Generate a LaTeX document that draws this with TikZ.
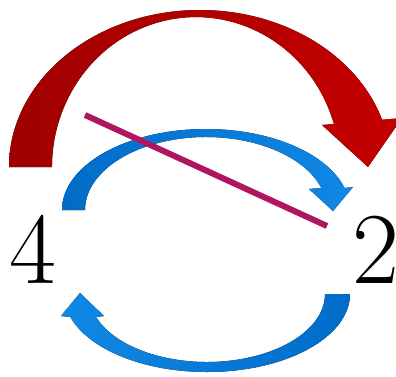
\documentclass[tikz,border=0pt]{standalone}
\usepackage{tikz}
\usetikzlibrary{positioning}
\definecolor{redlt}{RGB}{196,0,0}
\definecolor{reddk}{RGB}{160,0,0}
\definecolor{bluelt}{RGB}{16,136,230}
\definecolor{bluedk}{RGB}{0,108,200}
\definecolor{slash}{RGB}{176,22,96}
\tikzset{
  every picture/.style={line width=0.6pt},
  digit/.style={inner sep=0,anchor=base west,font=\fontsize{102}{102}\selectfont},
  bigarr/.style={left color=reddk,middle color=redlt,right color=redlt},
  toparr/.style={left color=bluedk,middle color=bluelt,right color=bluelt},
  botarr/.style={left color=bluelt,middle color=bluelt,right color=bluedk},
  cross/.style={draw=slash,line width=6pt},
}
\begin{document}
\begin{tikzpicture}[x=1pt,y=-1pt]
\useasboundingbox (0,0) rectangle (396,376);
% labels
\node[digit] (four) at (9,283) {4};
\node[digit] (two) at (352,283) {2};
% big red arrow
\fill[bigarr] (9,167) arc[start angle=180,end angle=342.5,x radius=191,y radius=157]
  -- (402,118) -- (368,167) -- (322,125) -- (333.9,124)
  arc[start angle=343.3,end angle=180,x radius=144,y radius=150] -- cycle;
% upper blue arrow
\fill[toparr] (62,210) arc[start angle=180,end angle=344.24,x radius=144,y radius=81]
  -- (353,187) -- (333,211) -- (309,189) -- (321.4,188)
  arc[start angle=342.46,end angle=180,x radius=121,y radius=73] -- cycle;
% lower blue arrow
\fill[botarr] (350,294) arc[start angle=0,end angle=162.85,x radius=143,y radius=78]
  -- (61,316) -- (80,293) -- (104,316) -- (96,317)
  arc[start angle=160.23,end angle=0,x radius=118,y radius=68] -- cycle;
% slash
\coordinate (s1) at (85,115);
\coordinate (s2) at (327,226);
\draw[cross] (s1) -- (s2);
\end{tikzpicture}
\end{document}
